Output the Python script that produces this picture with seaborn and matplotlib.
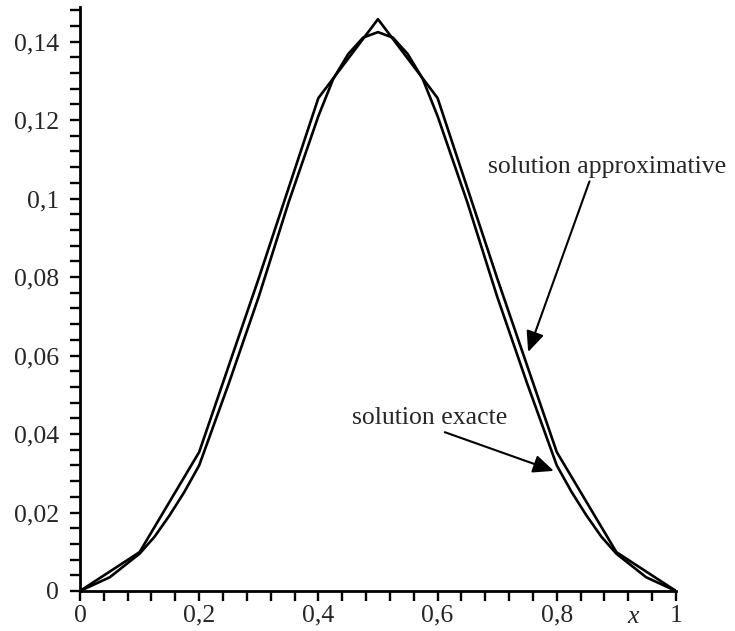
# plot.py
# Solution approximative (10 intervals) against the exact solution, Maple-style axes.

import matplotlib
matplotlib.use('Agg')
import matplotlib.pyplot as plt
from matplotlib.ticker import MultipleLocator
import seaborn as sns

x_approx = [0, 0.1, 0.2, 0.3, 0.4, 0.5, 0.6, 0.7, 0.8, 0.9, 1]
y_approx = [0, 0.0099, 0.0354, 0.0797, 0.1256, 0.1457, 0.1256, 0.0797, 0.0354, 0.0099, 0]

x_exact = [0, 0.05, 0.1, 0.125, 0.15, 0.175, 0.2, 0.25, 0.3, 0.35, 0.4, 0.425, 0.45, 0.475, 0.5,
           0.525, 0.55, 0.575, 0.6, 0.65, 0.7, 0.75, 0.8, 0.825, 0.85, 0.875, 0.9, 0.95, 1]
y_exact = [0, 0.0035, 0.0095, 0.0138, 0.0192, 0.0252, 0.032, 0.053, 0.075, 0.099, 0.121, 0.1305, 0.1368,
           0.1410, 0.1424, 0.1410, 0.1368, 0.1305, 0.121, 0.099, 0.075, 0.053, 0.032, 0.0252, 0.0192,
           0.0138, 0.0095, 0.0035, 0]

xtick_values = [0, 0.2, 0.4, 0.6, 0.8, 1]
xtick_labels = ['0', '0,2', '0,4', '0,6', '0,8', '1']
ytick_values = [0, 0.02, 0.04, 0.06, 0.08, 0.1, 0.12, 0.14]
ytick_labels = ['0', '0,02', '0,04', '0,06', '0,08', '0,1', '0,12', '0,14']

sns.set_style("white")
plt.rcParams['font.family'] = ['Liberation Serif', 'DejaVu Serif']

fig = plt.figure(figsize=(7.35, 6.31), dpi=100)
ax = fig.add_axes([0.1088, 0.0634, 0.8109, 0.9255])

sns.lineplot(x=x_approx, y=y_approx, color='black', linewidth=1.9, ax=ax)
sns.lineplot(x=x_exact, y=y_exact, color='black', linewidth=1.9, ax=ax)

ax.set_xlim(0, 1)
ax.set_ylim(0, 0.1488)

for side in ['top', 'right']:
    ax.spines[side].set_visible(False)
for side in ['left', 'bottom']:
    ax.spines[side].set_linewidth(2)
    ax.spines[side].set_color('black')

ax.set_xticks(xtick_values)
ax.set_xticklabels(xtick_labels)
ax.set_yticks(ytick_values)
ax.set_yticklabels(ytick_labels)
ax.xaxis.set_minor_locator(MultipleLocator(0.04))
ax.yaxis.set_minor_locator(MultipleLocator(0.004))
ax.tick_params(which='both', direction='out', length=7, width=1.7, color='black')
ax.tick_params(axis='x', which='major', labelsize=18.5, pad=3)
ax.tick_params(axis='y', which='major', labelsize=18.5, pad=8)
ax.tick_params(bottom=True, left=True, which='both')

ax.text(0.928, -0.0066, 'x', fontsize=18.5, fontstyle='italic', ha='center', va='center')

ax.annotate('solution approximative', xy=(0.752, 0.0609), xytext=(0.685, 0.108),
            fontsize=18.5, va='center', ha='left', annotation_clip=False,
            arrowprops=dict(arrowstyle='-|>,head_length=0.5,head_width=0.22', color='black', lw=1.5,
                            mutation_scale=25, shrinkA=0, shrinkB=0, relpos=(0.43, 0)))
ax.annotate('solution exacte', xy=(0.795, 0.0306), xytext=(0.456, 0.0441),
            fontsize=18.5, va='center', ha='left', annotation_clip=False,
            arrowprops=dict(arrowstyle='-|>,head_length=0.5,head_width=0.22', color='black', lw=1.5,
                            mutation_scale=25, shrinkA=0, shrinkB=0, relpos=(0.54, 0)))

plt.savefig('out.png', dpi=100)
